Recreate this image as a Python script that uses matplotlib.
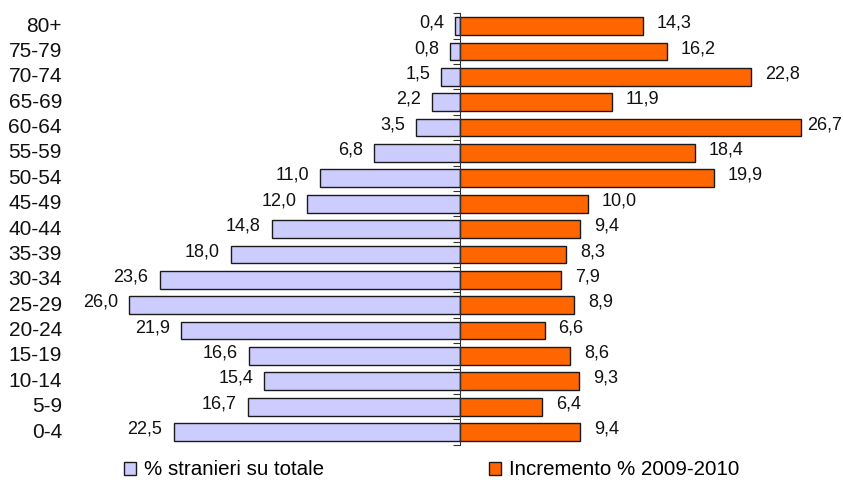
import matplotlib.pyplot as plt
import matplotlib.transforms as mtransforms
from matplotlib.patches import Patch

plt.rcParams["font.family"] = ["Liberation Sans", "DejaVu Sans"]

# age classes, from youngest (bottom) to oldest (top)
age_classes = [
    "0-4", "5-9", "10-14", "15-19", "20-24", "25-29", "30-34", "35-39",
    "40-44", "45-49", "50-54", "55-59", "60-64", "65-69", "70-74",
    "75-79", "80+",
]

stranieri_pct = [
    22.5, 16.7, 15.4, 16.6, 21.9, 26.0, 23.6, 18.0,
    14.8, 12.0, 11.0, 6.8, 3.5, 2.2, 1.5, 0.8, 0.4,
]

incremento_pct = [
    9.4, 6.4, 9.3, 8.6, 6.6, 8.9, 7.9, 8.3,
    9.4, 10.0, 19.9, 18.4, 26.7, 11.9, 22.8, 16.2, 14.3,
]

LEFT_COLOR = "#CCCCFF"
RIGHT_COLOR = "#FF6600"
EDGE_COLOR = "#1a1a1a"


def fmt(v):
    return f"{v:.1f}".replace(".", ",")


fig = plt.figure(figsize=(8.43, 4.88), dpi=100)
ax = fig.add_axes([0.0925, 0.0887, 0.9075, 0.884])

ypos = list(range(len(age_classes)))

ax.barh(
    ypos,
    [-v for v in stranieri_pct],
    height=0.7,
    color=LEFT_COLOR,
    edgecolor=EDGE_COLOR,
    linewidth=1,
    zorder=2,
)

ax.barh(
    ypos,
    incremento_pct,
    height=0.7,
    color=RIGHT_COLOR,
    edgecolor=EDGE_COLOR,
    linewidth=1,
    zorder=2,
)

# value labels
for y, v in zip(ypos, stranieri_pct):
    ax.annotate(
        fmt(v),
        xy=(-v, y),
        xytext=(-8, 2),
        textcoords="offset points",
        ha="right",
        va="center",
        fontsize=13,
        color="#111111",
    )

right_labels = []
for y, v in zip(ypos, incremento_pct):
    t = ax.annotate(
        fmt(v),
        xy=(v, y),
        xytext=(10, 2),
        textcoords="offset points",
        ha="left",
        va="center",
        fontsize=13,
        color="#111111",
        annotation_clip=False,
    )
    right_labels.append(t)

# age class labels on the far left
trans = mtransforms.blended_transform_factory(fig.transFigure, ax.transData)
for y, lab in zip(ypos, age_classes):
    ax.text(
        0.0735,
        y,
        lab,
        transform=trans,
        ha="right",
        va="center",
        fontsize=15,
        color="#111111",
    )

ax.set_xlim(-30, 30)
ax.set_ylim(-0.5, len(age_classes) - 0.5)

for side in ["top", "right", "bottom"]:
    ax.spines[side].set_visible(False)

ax.spines["left"].set_position(("data", 0))
ax.spines["left"].set_color("#333333")
ax.spines["left"].set_zorder(3)

ax.set_xticks([])
ax.set_yticks([y - 0.5 for y in range(len(age_classes) + 1)])
ax.set_yticklabels([])
ax.tick_params(axis="y", direction="out", length=5, color="#333333")

handles = [
    Patch(facecolor=LEFT_COLOR, edgecolor=EDGE_COLOR, linewidth=1),
    Patch(facecolor=RIGHT_COLOR, edgecolor=EDGE_COLOR, linewidth=1),
]

fig.legend(
    handles,
    ["% stranieri su totale", "Incremento % 2009-2010"],
    loc="center",
    bbox_to_anchor=(0.512, 0.037),
    ncol=2,
    frameon=False,
    fontsize=14.8,
    handlelength=0.6,
    handleheight=0.6,
    handletextpad=0.4,
    columnspacing=8.0,
    borderpad=0,
)

# pull back any right label that would run past the figure edge
fig.canvas.draw()
renderer = fig.canvas.get_renderer()
fig_w = fig.bbox.width
for t in right_labels:
    bb = t.get_window_extent(renderer)
    if bb.x1 > fig_w - 1:
        dx_pt = (bb.x1 - (fig_w - 1)) * 72 / fig.dpi
        x0, y0 = t.xyann
        t.xyann = (max(x0 - dx_pt, 2), y0)

fig.savefig("out.png", dpi=100)
